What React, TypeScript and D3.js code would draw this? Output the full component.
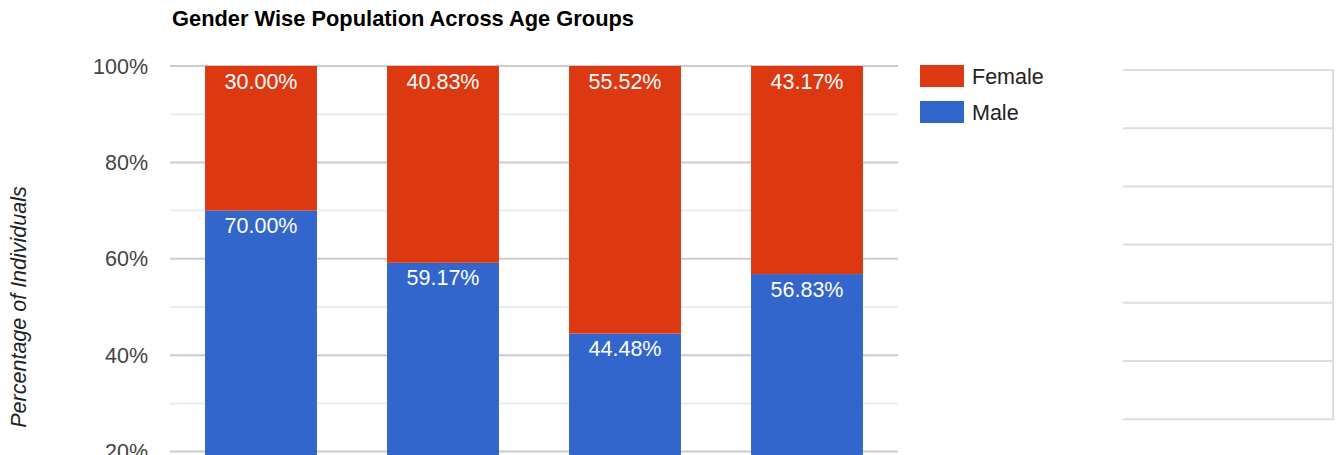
import React from "react";
import * as d3 from "d3";

const categories = ["18-25", "26-35", "36-50", "51+"];
const maleValues = [70.0, 59.17, 44.48, 56.83];
const femaleValues = [30.0, 40.83, 55.52, 43.17];
const seriesNames = ["Female", "Male"];
const yTicks = [0, 20, 40, 60, 80, 100];
const tableRows = [0, 1, 2, 3, 4, 5];

const W = 1337;
const H = 600;
const plot = { left: 170, right: 898, top: 66, bottom: 548 };
const colors: Record<string, string> = { Male: "#3366cc", Female: "#dc3912" };
const FONT = "Arial, 'Liberation Sans', sans-serif";

export default function App() {
  const x = d3
    .scaleBand<string>()
    .domain(categories)
    .range([plot.left, plot.right])
    .paddingInner(0.385)
    .paddingOuter(0.1925);
  const y = d3.scaleLinear().domain([0, 100]).range([plot.bottom, plot.top]);
  const minorTicks = d3.range(10, 100, 20);

  const rows = categories.map((c, i) => ({ cat: c, Male: maleValues[i], Female: femaleValues[i] }));
  const stack = d3.stack<any>().keys(["Male", "Female"])(rows);

  return (
    <svg
      width={W}
      height={H}
      style={{ position: "absolute", left: 0, top: 0, fontFamily: FONT }}
    >
      <rect x={0} y={0} width={W} height={H} fill="#fff" />
      <text x={172} y={26} fontSize={21.5} fontWeight="bold" fill="#000" textLength={462} lengthAdjust="spacingAndGlyphs">
        Gender Wise Population Across Age Groups
      </text>
      {minorTicks.map((t) => (
        <line key={"m" + t} x1={plot.left} x2={plot.right} y1={y(t)} y2={y(t)} stroke="#ebebeb" strokeWidth={2} />
      ))}
      {yTicks.map((t) => (
        <g key={t}>
          <line x1={plot.left} x2={plot.right} y1={y(t)} y2={y(t)} stroke="#cccccc" strokeWidth={2} />
          <text x={148} y={y(t)} dy="0.35em" textAnchor="end" fontSize={21.5} fill="#444">
            {t}%
          </text>
        </g>
      ))}
      <text
        transform={`translate(26, 307) rotate(-90)`}
        textAnchor="middle"
        fontSize={21.5}
        fontStyle="italic"
        fill="#222"
      >
        Percentage of Individuals
      </text>
      {stack.map((layer) => (
        <g key={layer.key}>
          {layer.map((d, i) => (
            <g key={i}>
              <rect
                x={x(categories[i])}
                y={y(d[1])}
                width={x.bandwidth()}
                height={y(d[0]) - y(d[1])}
                fill={colors[layer.key as string]}
              />
              <text
                x={(x(categories[i]) as number) + x.bandwidth() / 2}
                y={y(d[1]) + 15}
                dy="0.35em"
                textAnchor="middle"
                fontSize={21.5}
                fill="#fff"
              >
                {(d[1] - d[0]).toFixed(2)}%
              </text>
            </g>
          ))}
        </g>
      ))}
      {categories.map((c) => (
        <text key={c} x={(x(c) as number) + x.bandwidth() / 2} y={plot.bottom + 26} textAnchor="middle" fontSize={21.5} fill="#444">
          {c}
        </text>
      ))}
      {seriesNames.map((s, i) => (
        <g key={s} transform={`translate(920, ${65 + i * 36})`}>
          <rect x={0} y={0} width={44} height={22} fill={colors[s]} />
          <text x={52} y={11} dy="0.35em" fontSize={21.5} fill="#222">
            {s}
          </text>
        </g>
      ))}
      {tableRows.concat([6]).map((r) => (
        <line key={"l" + r} x1={1123} x2={1334} y1={70 + r * 58.2} y2={70 + r * 58.2} stroke="#dddddd" strokeWidth={2} />
      ))}
      <line x1={1333} x2={1333} y1={69} y2={420} stroke="#dddddd" strokeWidth={2} />
    </svg>
  );
}
